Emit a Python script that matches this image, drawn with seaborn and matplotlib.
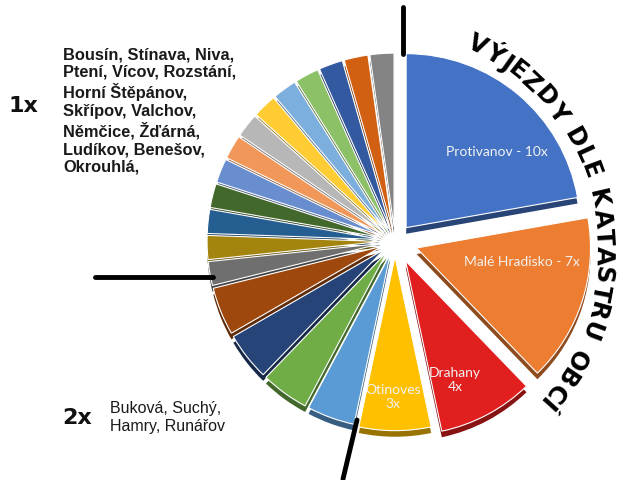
import matplotlib
matplotlib.use("Agg")
import matplotlib.colors as mcolors
import matplotlib.pyplot as plt
import numpy as np
import seaborn as sns
from matplotlib.font_manager import FontProperties
from matplotlib.lines import Line2D
from matplotlib.textpath import text_to_path

# data (clockwise from the top)
villages = [
    "Protivanov", "Malé Hradisko", "Drahany", "Otinoves",
    "Buková", "Suchý", "Hamry", "Runářov",
    "Bousín", "Stínava", "Niva", "Ptení", "Vícov", "Rozstání",
    "Horní Štěpánov", "Skřípov", "Valchov", "Němčice", "Žďárná",
    "Ludíkov", "Benešov",
]
counts = [10, 7, 4, 3, 2, 2, 2, 2, 1, 1, 1, 1, 1, 1, 1, 1, 1, 1, 1, 1, 1]
colors = [
    "#4472C4", "#ED7D31", "#E11F1F", "#FFC000",
    "#5B9BD5", "#70AD47", "#264478", "#9E480E",
    "#6F6F6F", "#A3840E", "#255E91", "#43682B", "#698ED0", "#F1975A",
    "#B7B7B7", "#FFCD33", "#7CAFDD", "#8CC168", "#335AA1", "#D26012",
    "#848484",
]
explode = [0.1, 0.13, 0.13, 0.09] + [0.08] * 4 + [0.08] * 13

inside_labels = {
    "Protivanov": ("Protivanov - 10x", 497, 152),
    "Malé Hradisko": ("Malé Hradisko - 7x", 522, 262),
    "Drahany": ("Drahany\n4x", 455, 380),
    "Otinoves": ("Otinoves\n3x", 393, 397),
}
once_text = ("Bousín, Stínava, Niva,\nPtení, Vícov, Rozstání,\nHorní Štěpánov,\n"
             "Skřípov, Valchov,\nNěmčice, Žďárná,\nLudíkov, Benešov,\nOkrouhlá,")
twice_text = "Buková, Suchý,\nHamry, Runářov"
title = "VÝJEZDY DLE KATASTRU OBCÍ"

sns.set_theme(style="white")
plt.rcParams["font.family"] = ["DejaVu Sans"]

W, H = 627, 481
fig = plt.figure(figsize=(W / 100, H / 100), dpi=100)
ax = fig.add_axes([0, 0, 1, 1])

R = 174
cx, cy = 395, H - 242


def darken(c, f=0.6):
    r, g, b = mcolors.to_rgb(c)
    return (r * f, g * f, b * f)


# side of the "3D" pie
ax.pie(counts, colors=[darken(c) for c in colors], explode=explode,
       startangle=90, counterclock=False, center=(0, -0.035),
       wedgeprops=dict(linewidth=0))
ax.pie(counts, colors=colors, explode=explode, startangle=90,
       counterclock=False, wedgeprops=dict(edgecolor="white", linewidth=0.8))
ax.set_aspect("auto")
ax.set_xlim(-cx / R, (W - cx) / R)
ax.set_ylim(-cy / R, (H - cy) / R)
ax.axis("off")


def fx(x):
    return x / W


def fy(y):
    return 1 - y / H


for name, (txt, x, y) in inside_labels.items():
    fig.text(fx(x), fy(y), txt, ha="center", va="center", fontsize=10,
             color="#F2F2F2", family=["Lato", "DejaVu Sans"], linespacing=1.2)

fig.text(fx(23), fy(106), "1x", ha="center", va="center", fontsize=16,
         fontweight="bold", color="#111111")
fig.text(fx(63), fy(111), once_text, ha="left", va="center", fontsize=11.8,
         fontweight="bold", family=["Liberation Sans", "DejaVu Sans"],
         color="#1a1a1a", linespacing=1.22)
fig.text(fx(77), fy(418), "2x", ha="center", va="center", fontsize=16,
         fontweight="bold", color="#111111")
fig.text(fx(110), fy(418), twice_text, ha="left", va="center", fontsize=11.5,
         family=["Liberation Sans", "DejaVu Sans"], color="#1a1a1a",
         linespacing=1.25)

# leader lines
for (x0, y0), (x1, y1) in [((403, 8), (403, 55)), ((95, 278), (213, 278)),
                           ((357, 421), (343, 480))]:
    fig.add_artist(Line2D([fx(x0), fx(x1)], [fy(y0), fy(y1)], color="black",
                          linewidth=3.5, solid_capstyle="round"))

# curved title
tcx, tcy, tr = 375, H - 250, 229
a0, a1 = 63.3, -42.1
fp = FontProperties(family="DejaVu Sans", weight="bold", size=17.5)
widths = []
for ch in title:
    w = text_to_path.get_text_width_height_descent(ch if ch != " " else "n", fp, ismath=False)[0]
    widths.append(w * (0.55 if ch == " " else 1.0))
widths = np.array(widths)
mids = np.cumsum(widths) - widths / 2
frac = (mids - mids[0]) / (mids[-1] - mids[0])
for ch, f in zip(title, frac):
    if ch == " ":
        continue
    th = np.deg2rad(a0 + (a1 - a0) * f)
    px = tcx + tr * np.cos(th)
    py = tcy + tr * np.sin(th)
    fig.text(px / W, py / H, ch, ha="center", va="center", fontproperties=fp,
             rotation=np.rad2deg(th) - 90, rotation_mode="anchor", color="black")

fig.savefig("out.png", dpi=100)
